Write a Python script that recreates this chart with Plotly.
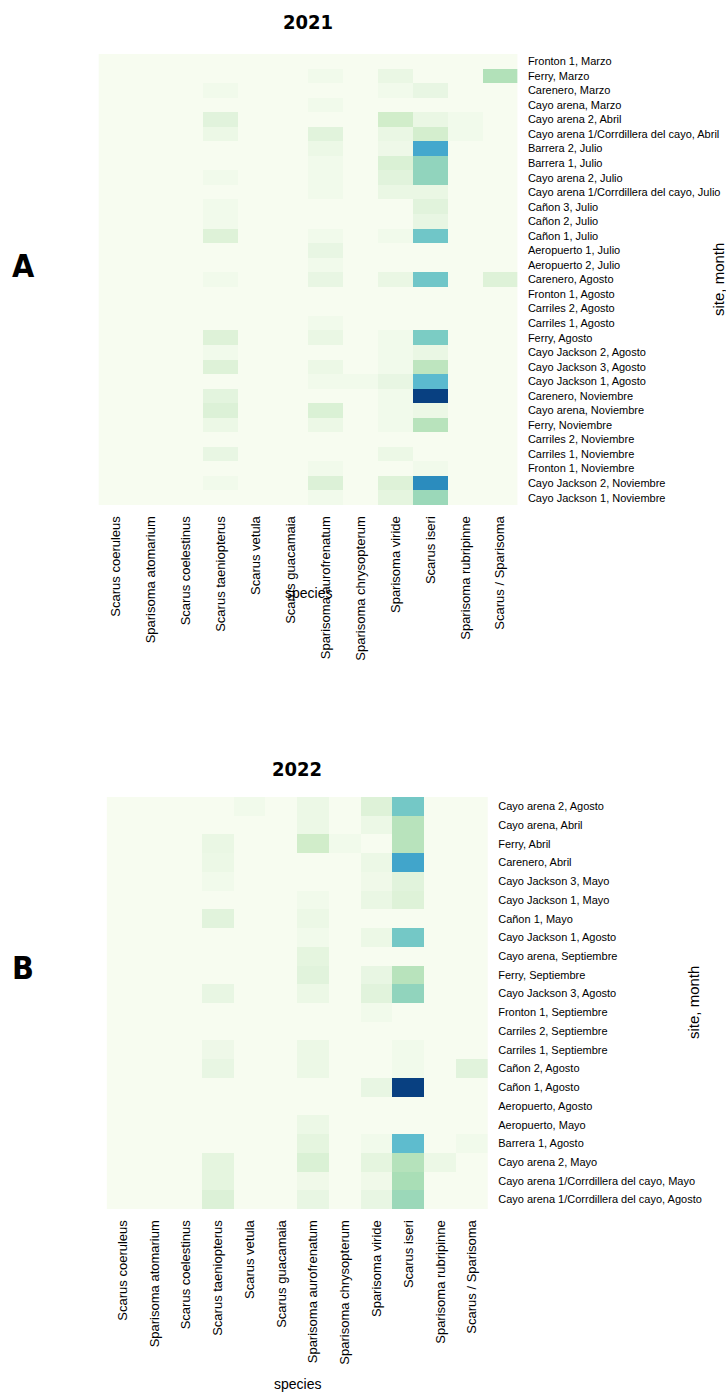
import plotly.graph_objects as go

# Parrotfish species (columns of both heatmaps)
species = [
    "Scarus coeruleus", "Sparisoma atomarium", "Scarus coelestinus",
    "Scarus taeniopterus", "Scarus vetula", "Scarus guacamaia",
    "Sparisoma aurofrenatum", "Sparisoma chrysopterum", "Sparisoma viride",
    "Scarus iseri", "Sparisoma rubripinne", "Scarus / Sparisoma",
]

# Survey rows for 2021 (site, month)
sites_2021 = [
    "Fronton 1, Marzo", "Ferry, Marzo", "Carenero, Marzo", "Cayo arena, Marzo",
    "Cayo arena 2, Abril", "Cayo arena 1/Corrdillera del cayo, Abril",
    "Barrera 2, Julio", "Barrera 1, Julio", "Cayo arena 2, Julio",
    "Cayo arena 1/Corrdillera del cayo, Julio", "Cañon 3, Julio", "Cañon 2, Julio",
    "Cañon 1, Julio", "Aeropuerto 1, Julio", "Aeropuerto 2, Julio",
    "Carenero, Agosto", "Fronton 1, Agosto", "Carriles 2, Agosto",
    "Carriles 1, Agosto", "Ferry, Agosto", "Cayo Jackson 2, Agosto",
    "Cayo Jackson 3, Agosto", "Cayo Jackson 1, Agosto", "Carenero, Noviembre",
    "Cayo arena, Noviembre", "Ferry, Noviembre", "Carriles 2, Noviembre",
    "Carriles 1, Noviembre", "Fronton 1, Noviembre", "Cayo Jackson 2, Noviembre",
    "Cayo Jackson 1, Noviembre",
]

# Relative abundance per row (2021), one value per species
abund_2021 = [
    [0, 0, 0, 0.00, 0, 0, 0.00, 0.00, 0.00, 0.00, 0.00, 0.00],
    [0, 0, 0, 0.00, 0, 0, 0.03, 0.00, 0.07, 0.00, 0.00, 0.34],
    [0, 0, 0, 0.03, 0, 0, 0.00, 0.00, 0.03, 0.08, 0.00, 0.00],
    [0, 0, 0, 0.00, 0, 0, 0.03, 0.00, 0.00, 0.00, 0.00, 0.00],
    [0, 0, 0, 0.12, 0, 0, 0.00, 0.00, 0.22, 0.07, 0.03, 0.00],
    [0, 0, 0, 0.06, 0, 0, 0.12, 0.00, 0.07, 0.20, 0.03, 0.00],
    [0, 0, 0, 0.00, 0, 0, 0.06, 0.00, 0.05, 0.66, 0.00, 0.00],
    [0, 0, 0, 0.00, 0, 0, 0.03, 0.00, 0.16, 0.44, 0.00, 0.00],
    [0, 0, 0, 0.03, 0, 0, 0.03, 0.00, 0.12, 0.44, 0.00, 0.00],
    [0, 0, 0, 0.00, 0, 0, 0.03, 0.00, 0.07, 0.07, 0.00, 0.00],
    [0, 0, 0, 0.03, 0, 0, 0.00, 0.00, 0.00, 0.12, 0.00, 0.00],
    [0, 0, 0, 0.03, 0, 0, 0.00, 0.00, 0.00, 0.08, 0.00, 0.00],
    [0, 0, 0, 0.14, 0, 0, 0.03, 0.00, 0.03, 0.53, 0.00, 0.00],
    [0, 0, 0, 0.00, 0, 0, 0.08, 0.00, 0.00, 0.00, 0.00, 0.00],
    [0, 0, 0, 0.00, 0, 0, 0.03, 0.00, 0.00, 0.00, 0.00, 0.00],
    [0, 0, 0, 0.03, 0, 0, 0.08, 0.00, 0.07, 0.53, 0.00, 0.14],
    [0, 0, 0, 0.00, 0, 0, 0.00, 0.00, 0.00, 0.00, 0.00, 0.00],
    [0, 0, 0, 0.00, 0, 0, 0.00, 0.00, 0.00, 0.00, 0.00, 0.00],
    [0, 0, 0, 0.00, 0, 0, 0.03, 0.00, 0.00, 0.00, 0.00, 0.00],
    [0, 0, 0, 0.14, 0, 0, 0.07, 0.00, 0.03, 0.50, 0.00, 0.00],
    [0, 0, 0, 0.03, 0, 0, 0.00, 0.00, 0.03, 0.07, 0.00, 0.00],
    [0, 0, 0, 0.14, 0, 0, 0.06, 0.00, 0.03, 0.30, 0.00, 0.00],
    [0, 0, 0, 0.00, 0, 0, 0.03, 0.03, 0.08, 0.59, 0.00, 0.00],
    [0, 0, 0, 0.11, 0, 0, 0.00, 0.00, 0.03, 1.00, 0.00, 0.00],
    [0, 0, 0, 0.15, 0, 0, 0.16, 0.00, 0.03, 0.06, 0.00, 0.00],
    [0, 0, 0, 0.06, 0, 0, 0.06, 0.00, 0.03, 0.32, 0.00, 0.00],
    [0, 0, 0, 0.00, 0, 0, 0.00, 0.00, 0.00, 0.00, 0.00, 0.00],
    [0, 0, 0, 0.08, 0, 0, 0.00, 0.00, 0.06, 0.00, 0.00, 0.00],
    [0, 0, 0, 0.00, 0, 0, 0.03, 0.00, 0.00, 0.03, 0.00, 0.00],
    [0, 0, 0, 0.03, 0, 0, 0.15, 0.00, 0.14, 0.75, 0.00, 0.00],
    [0, 0, 0, 0.00, 0, 0, 0.03, 0.00, 0.10, 0.41, 0.00, 0.00],
]

# Survey rows for 2022 (site, month)
sites_2022 = [
    "Cayo arena 2, Agosto", "Cayo arena, Abril", "Ferry, Abril", "Carenero, Abril",
    "Cayo Jackson 3, Mayo", "Cayo Jackson 1, Mayo", "Cañon 1, Mayo",
    "Cayo Jackson 1, Agosto", "Cayo arena, Septiembre", "Ferry, Septiembre",
    "Cayo Jackson 3, Agosto", "Fronton 1, Septiembre", "Carriles 2, Septiembre",
    "Carriles 1, Septiembre", "Cañon 2, Agosto", "Cañon 1, Agosto",
    "Aeropuerto, Agosto", "Aeropuerto, Mayo", "Barrera 1, Agosto",
    "Cayo arena 2, Mayo", "Cayo arena 1/Corrdillera del cayo, Mayo",
    "Cayo arena 1/Corrdillera del cayo, Agosto",
]

# Relative abundance per row (2022), one value per species
abund_2022 = [
    [0, 0, 0, 0.00, 0.03, 0, 0.06, 0.00, 0.14, 0.52, 0.00, 0.00],
    [0, 0, 0, 0.00, 0.00, 0, 0.06, 0.00, 0.06, 0.32, 0.00, 0.00],
    [0, 0, 0, 0.07, 0.00, 0, 0.22, 0.03, 0.00, 0.32, 0.00, 0.00],
    [0, 0, 0, 0.06, 0.00, 0, 0.00, 0.00, 0.06, 0.67, 0.00, 0.00],
    [0, 0, 0, 0.03, 0.00, 0, 0.00, 0.00, 0.04, 0.12, 0.00, 0.00],
    [0, 0, 0, 0.00, 0.00, 0, 0.03, 0.00, 0.07, 0.14, 0.00, 0.00],
    [0, 0, 0, 0.12, 0.00, 0, 0.06, 0.00, 0.00, 0.00, 0.00, 0.00],
    [0, 0, 0, 0.00, 0.00, 0, 0.03, 0.00, 0.06, 0.52, 0.00, 0.00],
    [0, 0, 0, 0.00, 0.00, 0, 0.10, 0.00, 0.00, 0.00, 0.00, 0.00],
    [0, 0, 0, 0.00, 0.00, 0, 0.12, 0.00, 0.08, 0.32, 0.00, 0.00],
    [0, 0, 0, 0.08, 0.00, 0, 0.06, 0.00, 0.12, 0.44, 0.00, 0.00],
    [0, 0, 0, 0.00, 0.00, 0, 0.00, 0.00, 0.03, 0.00, 0.00, 0.00],
    [0, 0, 0, 0.00, 0.00, 0, 0.00, 0.00, 0.00, 0.00, 0.00, 0.00],
    [0, 0, 0, 0.05, 0.00, 0, 0.06, 0.00, 0.00, 0.03, 0.00, 0.00],
    [0, 0, 0, 0.08, 0.00, 0, 0.06, 0.00, 0.00, 0.03, 0.00, 0.12],
    [0, 0, 0, 0.00, 0.00, 0, 0.00, 0.00, 0.08, 1.00, 0.00, 0.00],
    [0, 0, 0, 0.00, 0.00, 0, 0.00, 0.00, 0.00, 0.00, 0.00, 0.00],
    [0, 0, 0, 0.00, 0.00, 0, 0.06, 0.00, 0.00, 0.00, 0.00, 0.00],
    [0, 0, 0, 0.00, 0.00, 0, 0.10, 0.00, 0.03, 0.58, 0.00, 0.03],
    [0, 0, 0, 0.10, 0.00, 0, 0.16, 0.00, 0.10, 0.33, 0.06, 0.00],
    [0, 0, 0, 0.10, 0.00, 0, 0.04, 0.00, 0.04, 0.37, 0.00, 0.00],
    [0, 0, 0, 0.15, 0.00, 0, 0.08, 0.00, 0.08, 0.41, 0.00, 0.00],
]

W, H = 726, 1392
LABEL_FONT = "Liberation Sans, Arial, sans-serif"
TITLE_FONT = "DejaVu Sans Condensed, Liberation Sans, sans-serif"


def px_x(x):
    return x / W


def px_y(y):
    return 1 - y / H


fig = go.Figure()

fig.add_trace(go.Heatmap(
    z=abund_2021, x=species, y=sites_2021,
    colorscale="GnBu", zmin=0, zmax=1, showscale=False,
    xaxis="x", yaxis="y",
))
fig.add_trace(go.Heatmap(
    z=abund_2022, x=species, y=sites_2022,
    colorscale="GnBu", zmin=0, zmax=1, showscale=False,
    xaxis="x2", yaxis="y2",
))

common_x = dict(
    tickangle=-90, showgrid=False, zeroline=False, showline=False,
    ticks="outside", ticklen=5, tickcolor="rgba(0,0,0,0)",
    tickfont=dict(family=LABEL_FONT, size=13, color="black"),
)
common_y = dict(
    side="right", autorange="reversed", showgrid=False, zeroline=False,
    showline=False, ticks="outside", ticklen=7, tickcolor="rgba(0,0,0,0)",
    tickfont=dict(family=LABEL_FONT, size=11, color="black"),
)

fig.update_layout(
    width=W, height=H,
    margin=dict(l=0, r=0, t=0, b=0),
    paper_bgcolor="white", plot_bgcolor="white",
    xaxis=dict(domain=[px_x(98.5), px_x(517.7)], anchor="y", **common_x),
    yaxis=dict(domain=[px_y(505), px_y(54)], anchor="x", **common_y),
    xaxis2=dict(domain=[px_x(106.7), px_x(488)], anchor="y2", **common_x),
    yaxis2=dict(domain=[px_y(1209), px_y(797)], anchor="x2", **common_y),
)

annotations = [
    # panel titles
    dict(text="<b>2021</b>", x=px_x(308), y=px_y(22), size=20, family=TITLE_FONT),
    dict(text="<b>2022</b>", x=px_x(297), y=px_y(769), size=20, family=TITLE_FONT),
    # panel letters
    dict(text="<b>A</b>", x=px_x(23), y=px_y(266), size=32, family=TITLE_FONT),
    dict(text="<b>B</b>", x=px_x(23), y=px_y(968), size=32, family=TITLE_FONT),
    # axis titles
    dict(text="species", x=px_x(308), y=px_y(593), size=14, family=LABEL_FONT),
    dict(text="species", x=px_x(297), y=px_y(1384), size=14, family=LABEL_FONT),
]
for a in annotations:
    fig.add_annotation(
        text=a["text"], x=a["x"], y=a["y"], xref="paper", yref="paper",
        xanchor="center", yanchor="middle", showarrow=False,
        font=dict(family=a["family"], size=a["size"], color="black"),
    )

for xc, yc in [(718, 280), (693, 1003)]:
    fig.add_annotation(
        text="site, month", x=px_x(xc), y=px_y(yc), xref="paper", yref="paper",
        xanchor="center", yanchor="middle", showarrow=False, textangle=-90,
        font=dict(family=LABEL_FONT, size=15, color="black"),
    )

fig.write_html("out.html")
